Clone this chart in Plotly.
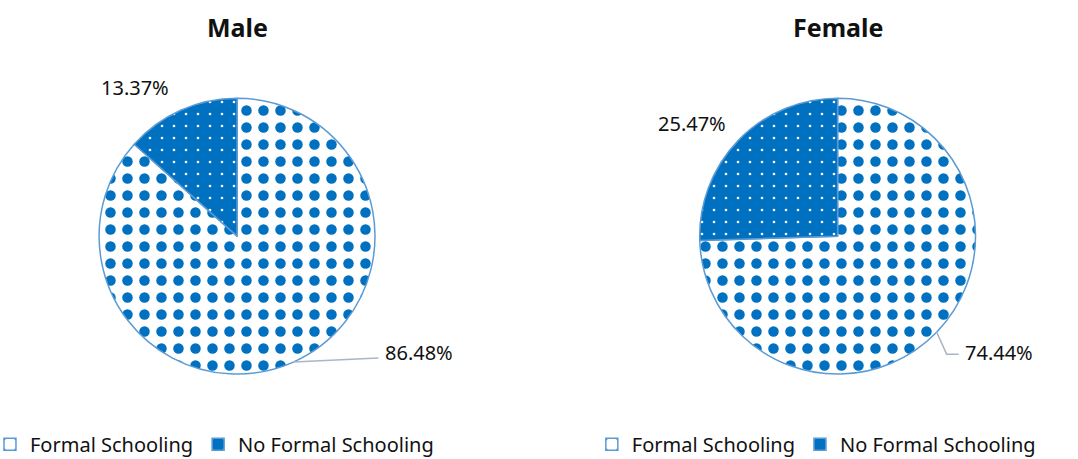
import math
import plotly.graph_objects as go

# Schooling status by sex (percent of respondents)
categories = ["Formal Schooling", "No Formal Schooling"]
male_pct = [86.48, 13.37]
female_pct = [74.44, 25.47]
panel_titles = ["Male", "Female"]

BLUE = "#0070C0"
EDGE = "#5B9BD5"
LEADER = "#A9B6C8"
W, H = 1078, 459

LABEL_FONT = dict(family="Noto Sans", size=20, color="#111111")
LEGEND_FONT = dict(family="Noto Sans", size=20, color="#111111")

DOM_Y = [0.185, 0.786]
male_dom = [0.0918, 0.348]
female_dom = [0.649, 0.905]


def pie(values, dom_x, legend_id, group):
    return go.Pie(
        values=values,
        labels=categories,
        sort=False,
        direction="clockwise",
        rotation=0,
        domain=dict(x=dom_x, y=DOM_Y),
        marker=dict(
            colors=["white", BLUE],
            line=dict(color=EDGE, width=1.5),
            pattern=dict(
                shape=[".", "."],
                fillmode="replace",
                fgcolor=[BLUE, "white"],
                bgcolor=["white", BLUE],
                size=[17, 12],
                solidity=[0.3, 0.04],
            ),
        ),
        textposition="none",
        hoverinfo="label+value",
        legend=legend_id,
        legendgroup=group,
        showlegend=True,
    )


def to_paper(px, py):
    return px / W, 1 - py / H


def slice_edges(values, dom_x):
    """Pixel point on the rim at the middle angle of each slice (clockwise from 12 o'clock)."""
    cx = (dom_x[0] + dom_x[1]) / 2 * W
    cy = H - (DOM_Y[0] + DOM_Y[1]) / 2 * H
    r = (DOM_Y[1] - DOM_Y[0]) * H / 2
    total = sum(values)
    out, start = [], 0.0
    for v in values:
        mid = (start + v / 2) / total * 2 * math.pi
        out.append((cx + r * math.sin(mid), cy - r * math.cos(mid)))
        start += v
    return out


fig = go.Figure()
fig.add_trace(pie(male_pct, male_dom, "legend", "male"))
fig.add_trace(pie(female_pct, female_dom, "legend2", "female"))

# leader-line bends (pixel offsets from the rim point) and text offsets, per panel
leader_bends = {
    "male": [(85, -4)],
    "female": [(10, 22), (22, 22)],
}
text_offsets = {"male": (90, -10), "female": (26, 20)}
small_offsets = {"male": (-10, -7), "female": (-11, -1)}

for key, values, dom in [("male", male_pct, male_dom), ("female", female_pct, female_dom)]:
    edges = slice_edges(values, dom)
    # large slice: label to the lower right with a leader line
    ex, ey = edges[0]
    pts = [(ex, ey)] + [(ex + dx, ey + dy) for dx, dy in leader_bends[key]]
    path = "M " + " L ".join(f"{x / W:.5f},{1 - y / H:.5f}" for x, y in pts)
    fig.add_shape(type="path", path=path, xref="paper", yref="paper",
                  line=dict(color=LEADER, width=1.5))
    tx, ty = to_paper(ex + text_offsets[key][0], ey + text_offsets[key][1])
    fig.add_annotation(text=f"{values[0]:.2f}%", x=tx, y=ty, xref="paper", yref="paper",
                       showarrow=False, xanchor="left", yanchor="middle", font=LABEL_FONT)
    # small slice: label just outside the rim, up and to the left
    sx, sy = edges[1]
    tx, ty = to_paper(sx + small_offsets[key][0], sy + small_offsets[key][1])
    fig.add_annotation(text=f"{values[1]:.2f}%", x=tx, y=ty, xref="paper", yref="paper",
                       showarrow=False, xanchor="right", yanchor="bottom", font=LABEL_FONT)

for title, dom in zip(panel_titles, [male_dom, female_dom]):
    fig.add_annotation(
        text=f"<b>{title}</b>",
        x=(dom[0] + dom[1]) / 2,
        y=(H - 27) / H,
        xref="paper",
        yref="paper",
        showarrow=False,
        xanchor="center",
        yanchor="middle",
        font=dict(family="Noto Sans", size=25, color="#111111"),
    )

legend_common = dict(
    orientation="h",
    traceorder="normal",
    yanchor="middle",
    y=0.032,
    xanchor="left",
    font=LEGEND_FONT,
    bgcolor="rgba(0,0,0,0)",
    itemclick=False,
    itemdoubleclick=False,
)

fig.update_layout(
    width=W,
    height=H,
    margin=dict(l=0, r=0, t=0, b=0, autoexpand=False),
    paper_bgcolor="white",
    plot_bgcolor="white",
    legend=dict(x=-0.0093, **legend_common),
    legend2=dict(x=0.549, **legend_common),
)

fig.write_html("out.html")
